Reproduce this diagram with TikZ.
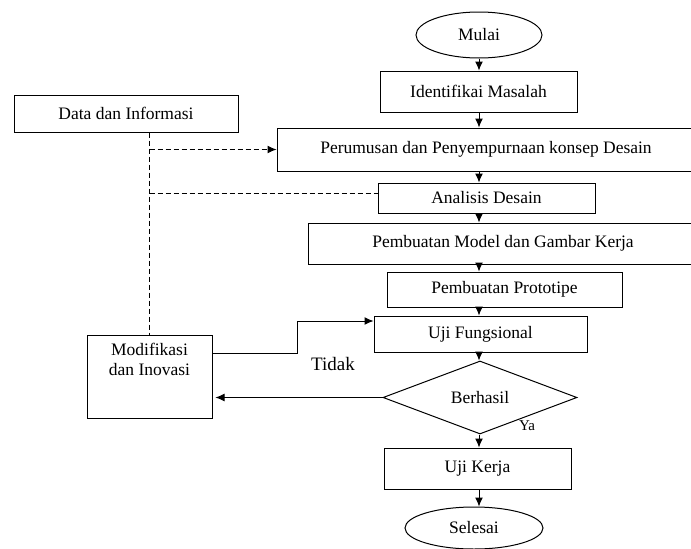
\documentclass[tikz,border=0pt]{standalone}
\usepackage{fontspec}
\setmainfont{Liberation Serif}
\usetikzlibrary{shapes.geometric,arrows.meta}

\begin{document}
\begin{tikzpicture}[x=1pt,y=-1pt,
  box/.style={draw,line width=1pt,rectangle,inner sep=0pt},
  oval/.style={draw,line width=1pt,ellipse,inner sep=0pt},
  arr/.style={line width=1pt,-{Latex[length=9pt,width=8pt]}},
  dsh/.style={line width=1pt,dash pattern=on 5pt off 3pt},
  font=\fontsize{17.5}{20}\selectfont]
\useasboundingbox (0,0) rectangle (691,549);

\node[oval,minimum width=126pt,minimum height=46pt] (mulai) at (479,35) {Mulai};
\node[box,minimum width=197pt,minimum height=41pt] (ident) at (478.5,91.5) {Identifikai Masalah};
\node[box,minimum width=224pt,minimum height=37pt] (data) at (126,113.5) {Data dan Informasi};
\node[box,minimum width=418pt,minimum height=43pt] (rumus) at (486,149.5) {Perumusan dan Penyempurnaan konsep Desain};
\node[box,minimum width=217pt,minimum height=30pt] (analisis) at (486.5,198) {Analisis Desain};
\node[box,minimum width=390pt,minimum height=41pt] (model) at (503,243.5) {Pembuatan Model dan Gambar Kerja};
\node[box,minimum width=235pt,minimum height=35pt] (proto) at (504.5,289.5) {Pembuatan Prototipe};
\node[box,minimum width=213pt,minimum height=36pt] (ujifung) at (480.5,334) {Uji Fungsional};
\node[draw,line width=1pt,diamond,aspect=2.66,minimum width=194pt,minimum height=73pt,inner sep=0pt] (berhasil) at (480,397.5) {Berhasil};
\node[box,minimum width=187pt,minimum height=41pt] (ujikerja) at (477.5,468.5) {Uji Kerja};
\node[oval,minimum width=138pt,minimum height=42pt] (selesai) at (474,528) {Selesai};

% kotak modifikasi, teks di bagian atas
\node[box,minimum width=125pt,minimum height=83pt] (modif) at (149.5,376.5) {};
\node[align=center,anchor=north,inner sep=0pt] (modiftxt) at ([yshift=-8pt]modif.north) {Modifikasi\\dan Inovasi};

\node[font=\fontsize{19}{22}\selectfont] (tidak) at (333,364) {Tidak};
\node[font=\fontsize{15}{18}\selectfont] (ya) at (527,426) {Ya};

\coordinate (col) at (479,0);
\coordinate (k1) at (297,353);
\coordinate (adin) at ([yshift=5pt]analisis.west);

\draw[arr] (mulai) -- (col |- ident.north);
\foreach \a/\b in {ident/rumus,rumus/analisis,analisis/model,model/proto,proto/ujifung,ujifung/berhasil,berhasil/ujikerja,ujikerja/selesai}
	\draw[arr] (col |- \a.south) -- (col |- \b.north);

% garis putus-putus dari data
\draw[dsh] (modif.north |- data.south) -- (modif.north);
\draw[dsh,-{Latex[length=9pt,width=8pt]}] (modif.north |- rumus.west) -- (rumus.west);
\draw[dsh] (modif.north |- adin) -- (adin);

\draw[arr] (modif.east |- k1) -- (k1) |- ([yshift=13pt]ujifung.west);
\draw[arr] (berhasil.west) -- ([xshift=3pt]berhasil.west -| modif.east);
\end{tikzpicture}
\end{document}
